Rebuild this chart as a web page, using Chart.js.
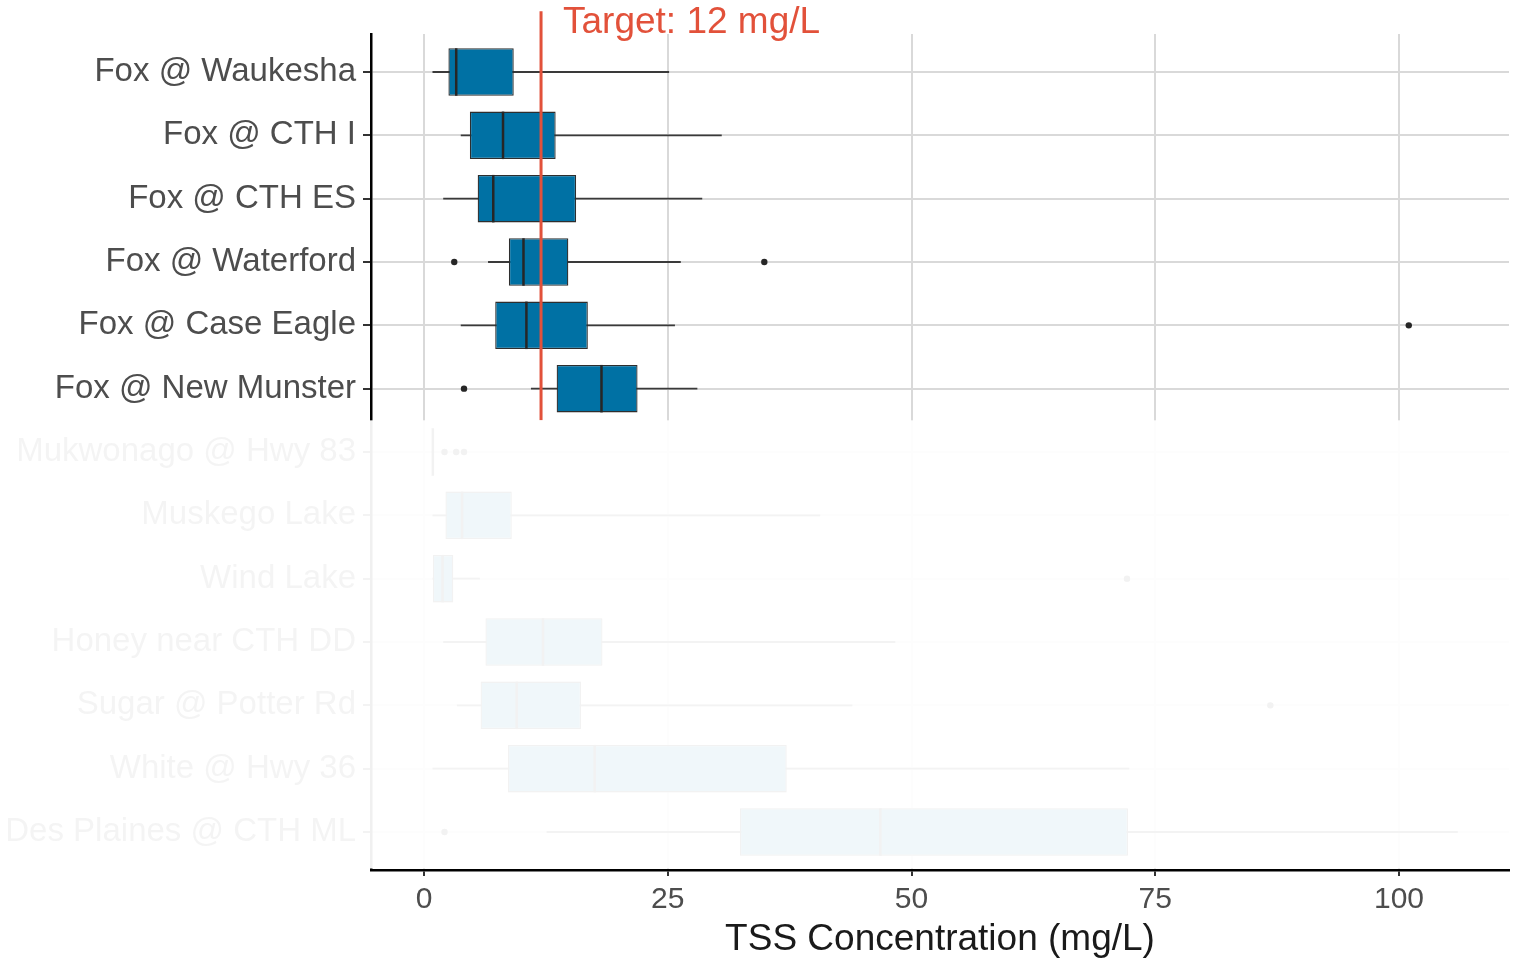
<!DOCTYPE html>
<html lang="en">
<head>
  <meta charset="UTF-8">
  <title>TSS Concentration by site</title>
  <script src="https://cdn.jsdelivr.net/npm/chart.js"></script>
  <style>
    html, body { margin: 0; padding: 0; background: #ffffff; }
    #wrap { width: 1513px; height: 962px; }
  </style>
</head>
<body>
<div id="wrap"><canvas id="tssChart" width="1513" height="962"></canvas></div>
<script>
// sites, top to bottom
const sites = [
  "Fox @ Waukesha", "Fox @ CTH I", "Fox @ CTH ES", "Fox @ Waterford",
  "Fox @ Case Eagle", "Fox @ New Munster", "Mukwonago @ Hwy 83",
  "Muskego Lake", "Wind Lake", "Honey near CTH DD", "Sugar @ Potter Rd",
  "White @ Hwy 36", "Des Plaines @ CTH ML"
];
// box plot stats (mg/L)
const whiskerLow  = [0.9, 3.8, 2.0, 6.6, 3.8, 11.0, 0.9, 0.9, 0.9, 2.0, 3.4, 0.9, 12.6];
const q1          = [2.5, 4.7, 5.5, 8.7, 7.3, 13.6, 0.9, 2.2, 0.9, 6.3, 5.8, 8.6, 32.4];
const median      = [3.3, 8.1, 7.1, 10.2, 10.5, 18.2, 0.9, 3.9, 1.9, 12.2, 9.5, 17.5, 46.8];
const q3          = [9.2, 13.5, 15.6, 14.8, 16.8, 21.9, 0.9, 9.0, 3.0, 18.3, 16.1, 37.2, 72.2];
const whiskerHigh = [25.1, 30.5, 28.5, 26.3, 25.7, 28.0, 0.9, 40.6, 5.7, 48.3, 43.9, 72.3, 106.0];
const outliers    = [[], [], [], [3.1, 34.9], [101.0], [4.1], [2.1, 3.3, 4.1], [], [72.1], [], [86.8], [], [2.1]];
const xTicks = [0, 25, 50, 75, 100];
const TARGET = 12;
const HIGHLIGHTED = 6;   // first six sites stay in full colour

const FONT = "'Liberation Sans', Arial, sans-serif";
const RED = "#e2513a";

const whiskerData = sites.map((s, i) => ({ x: [whiskerLow[i], whiskerHigh[i]], y: i + 1 }));
const boxData = sites.map((s, i) => ({ x: [q1[i], q3[i]], y: i + 1 }));
const medianData = sites.map((s, i) => ({ x: median[i], y: i + 1 }));
const outlierData = [];
outliers.forEach((arr, i) => arr.forEach(v => outlierData.push({ x: v, y: i + 1 })));

// fades the lower group of sites and writes the target label
const fadePlugin = {
  id: "fade",
  afterDatasetsDraw(chart) {
    const { ctx, chartArea, scales } = chart;
    const y0 = scales.y.getPixelForValue(HIGHLIGHTED + 0.5);
    ctx.save();
    ctx.fillStyle = "rgba(255,255,255,0.94)";
    ctx.fillRect(0, y0, chart.width, chartArea.bottom - 1.5 - y0);
    ctx.fillStyle = RED;
    ctx.font = "37px " + FONT;
    ctx.textBaseline = "alphabetic";
    ctx.textAlign = "left";
    ctx.fillText("Target: " + TARGET + " mg/L", scales.x.getPixelForValue(TARGET) + 22, chartArea.top - 1);
    ctx.restore();
  }
};

function halfBox(c) {
  const y = c.chart.scales.y;
  if (!y) return 24;
  return Math.abs(y.getPixelForValue(2) - y.getPixelForValue(1)) * 0.375;
}

new Chart(document.getElementById("tssChart"), {
  type: "bar",
  data: {
    datasets: [
      {
        type: "bar", indexAxis: "y", data: whiskerData, grouped: false,
        backgroundColor: "#3a3a3a", borderWidth: 0, barThickness: 1.2, order: 4
      },
      {
        type: "bar", indexAxis: "y", data: boxData, grouped: false,
        backgroundColor: "#0071a4", borderColor: "#2e2e2e", borderWidth: 1.3,
        borderSkipped: false, barPercentage: 0.75, categoryPercentage: 1, order: 3
      },
      {
        type: "line", data: medianData, showLine: false,
        pointStyle: "line", rotation: 90, pointRadius: halfBox,
        pointBorderColor: "#262626", pointBorderWidth: 2.5, order: 2
      },
      {
        type: "line", data: outlierData, showLine: false,
        pointStyle: "circle", pointRadius: 3.2, pointBorderWidth: 0,
        pointBackgroundColor: "#262626", order: 1
      },
      {
        type: "line", data: [{ x: TARGET, y: 0.04 }, { x: TARGET, y: HIGHLIGHTED + 0.5 }],
        borderColor: RED, borderWidth: 3, pointRadius: 0, clip: false, order: 0
      }
    ]
  },
  options: {
    responsive: false,
    animation: false,
    events: [],
    layout: { padding: { top: 34, right: 3, left: 0, bottom: 0 } },
    plugins: { legend: { display: false }, tooltip: { enabled: false } },
    scales: {
      x: {
        type: "linear",
        offset: false,
        min: -5.44, max: 111.28,
        afterBuildTicks: s => { s.ticks = xTicks.map(v => ({ value: v })); },
        afterFit: s => { s.height = 92; },
        grid: { offset: false, color: "#d9d9d9", lineWidth: 2, tickColor: "#333333", tickLength: 6, tickWidth: 2 },
        border: { display: true, color: "#000000", width: 2.5 },
        ticks: { font: { family: FONT, size: 30 }, color: "#4d4d4d", padding: 6, maxRotation: 0 },
        title: { display: true, text: "TSS Concentration (mg/L)", font: { family: FONT, size: 37 },
                 color: "#1a1a1a", padding: { top: 0, bottom: 0 } }
      },
      y: {
        type: "linear",
        offset: false,
        reverse: true,
        min: 0.4, max: 13.6,
        afterBuildTicks: s => { s.ticks = sites.map((n, i) => ({ value: i + 1 })); },
        afterFit: s => { s.width = 371; },
        grid: { offset: false, color: "#d9d9d9", lineWidth: 2, tickColor: "#333333", tickLength: 8, tickWidth: 2 },
        border: { display: true, color: "#000000", width: 2.5 },
        ticks: {
          font: { family: FONT, size: 33 }, color: "#4d4d4d", padding: 7,
          callback: v => sites[v - 1]
        }
      }
    }
  },
  plugins: [fadePlugin]
});
</script>
</body>
</html>
